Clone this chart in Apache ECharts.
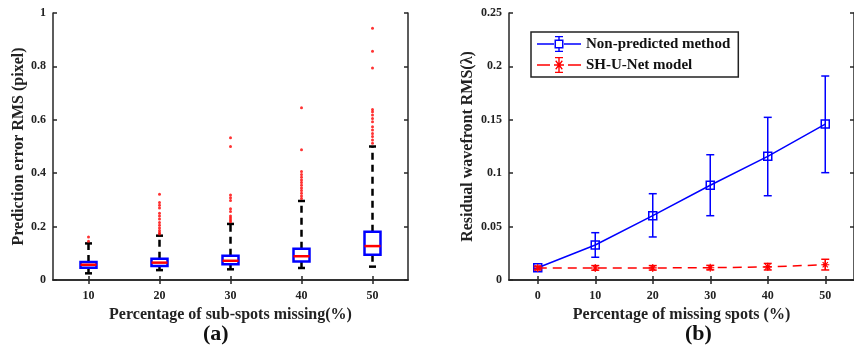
<!DOCTYPE html>
<html>
<head>
<meta charset="utf-8">
<script src="https://cdn.jsdelivr.net/npm/echarts@6/dist/echarts.min.js"></script>
<style>html,body{margin:0;padding:0;background:#fff;}#c{width:854px;height:353px;}</style>
</head>
<body>
<div id="c"></div>
<script>
// ---- Panel (a) data: box plots ----
const boxCats = ['10', '20', '30', '40', '50'];
const boxMin = [0.025, 0.037, 0.040, 0.045, 0.050];
const boxQ1  = [0.046, 0.052, 0.059, 0.069, 0.095];
const boxMed = [0.057, 0.065, 0.072, 0.089, 0.127];
const boxQ3  = [0.067, 0.080, 0.091, 0.117, 0.181];
const boxMax = [0.137, 0.166, 0.210, 0.296, 0.500];
const outliers10 = [0.145, 0.161];
const outliers20 = [0.172, 0.178, 0.185, 0.195, 0.205, 0.215, 0.228, 0.24, 0.25, 0.27, 0.28, 0.29, 0.321];
const outliers30 = [0.218, 0.225, 0.232, 0.24, 0.257, 0.267, 0.298, 0.308, 0.318, 0.5, 0.533];
const outliers40 = [0.305, 0.315, 0.325, 0.335, 0.345, 0.355, 0.365, 0.375, 0.385, 0.395, 0.406, 0.488, 0.645];
const outliers50 = [0.512, 0.524, 0.537, 0.549, 0.562, 0.574, 0.593, 0.605, 0.618, 0.63, 0.639, 0.794, 0.857, 0.943];
const yTicksA = [0, 0.2, 0.4, 0.6, 0.8, 1];

// ---- Panel (b) data: error-bar lines ----
const pctCats = ['0', '10', '20', '30', '40', '50'];
const npMean = [0.0115, 0.0328, 0.0602, 0.0887, 0.1158, 0.1460];
const npLow  = [0.0105, 0.0213, 0.0403, 0.0602, 0.0789, 0.1005];
const npHigh = [0.0125, 0.0443, 0.0808, 0.1173, 0.1523, 0.1910];
const shMean = [0.0112, 0.0112, 0.0113, 0.0115, 0.0123, 0.0143];
const shLow  = [0.0095, 0.0092, 0.0093, 0.0095, 0.0094, 0.0094];
const shHigh = [0.0130, 0.0135, 0.0135, 0.0137, 0.0155, 0.0194];
const yTicksB = [0, 0.05, 0.1, 0.15, 0.2, 0.25];

const FONT = 'Liberation Serif';
const BLUE = '#0000ff', RED = '#ff0000', AX = '#262626';

const allOutliers = [outliers10, outliers20, outliers30, outliers40, outliers50];
const outlierData = [];
allOutliers.forEach((arr, i) => arr.forEach(v => outlierData.push([i, v])));

const boxData = boxCats.map((c, i) => [i, boxMin[i], boxQ1[i], boxMed[i], boxQ3[i], boxMax[i]]);

function axisX(gridIndex, data, pos, labels, name, nameGap) {
  return {
    type: 'category', gridIndex, data, position: pos, boundaryGap: true,
    axisLine: {show: true, lineStyle: {color: AX, width: 1.5}},
    axisTick: {show: true, inside: true, alignWithLabel: true, length: 4, lineStyle: {color: AX, width: 1.5}},
    axisLabel: {show: labels, margin: 10, fontFamily: FONT, fontWeight: 'bold', fontSize: 12, color: '#222'},
    splitLine: {show: false},
    name: name || '', nameLocation: 'middle', nameGap: nameGap || 0,
    nameTextStyle: {fontFamily: FONT, fontWeight: 'bold', fontSize: 16, color: '#222'}
  };
}
function axisY(gridIndex, max, interval, pos, labels, name, nameGap) {
  return {
    type: 'value', gridIndex, min: 0, max, interval, position: pos,
    axisLine: {show: true, lineStyle: {color: AX, width: 1.5}},
    axisTick: {show: true, inside: true, length: 4, lineStyle: {color: AX, width: 1.5}},
    axisLabel: {show: labels, margin: 7, fontFamily: FONT, fontWeight: 'bold', fontSize: 12, color: '#222'},
    splitLine: {show: false},
    name: name || '', nameLocation: 'middle', nameGap: nameGap || 0,
    nameTextStyle: {fontFamily: FONT, fontWeight: 'bold', fontSize: 16, color: '#222'}
  };
}

const asterisk = 'path://M-0.7,-5L0.7,-5L0.7,5L-0.7,5Z M-5,-0.7L5,-0.7L5,0.7L-5,0.7Z M-3.8,-2.8L-2.8,-3.8L3.8,2.8L2.8,3.8Z M2.8,-3.8L3.8,-2.8L-2.8,3.8L-3.8,2.8Z';

// legend icons (44 x 16 box): line + marker + error bar
const legendIconBlue = 'path://' +
  'M0,7.3L17,7.3L17,8.7L0,8.7Z M27,7.3L44,7.3L44,8.7L27,8.7Z ' +
  'M17.5,3.5L26.5,3.5L26.5,12.5L17.5,12.5Z M19,11L25,11L25,5L19,5Z ' +
  'M21.3,0L22.7,0L22.7,3.5L21.3,3.5Z M21.3,12.5L22.7,12.5L22.7,16L21.3,16Z ' +
  'M18,0L26,0L26,1.3L18,1.3Z M18,14.7L26,14.7L26,16L18,16Z';
const legendIconRed = 'path://' +
  'M0,7.3L13,7.3L13,8.7L0,8.7Z M31,7.3L44,7.3L44,8.7L31,8.7Z ' +
  'M21.3,0L22.7,0L22.7,16L21.3,16Z M17,7.3L27,7.3L27,8.7L17,8.7Z ' +
  'M18.2,4.2L19.2,3.2L25.8,11.8L24.8,12.8Z M24.8,3.2L25.8,4.2L19.2,12.8L18.2,11.8Z ' +
  'M18,0L26,0L26,1.3L18,1.3Z M18,14.7L26,14.7L26,16L18,16Z';

function errRender(color) {
  return function (params, api) {
    const x = api.value(0);
    const lo = api.coord([x, api.value(1)]);
    const hi = api.coord([x, api.value(2)]);
    const cw = 4;
    const st = {stroke: color, lineWidth: 1.5};
    return {type: 'group', children: [
      {type: 'line', shape: {x1: lo[0], y1: lo[1], x2: hi[0], y2: hi[1]}, style: st},
      {type: 'line', shape: {x1: lo[0] - cw, y1: lo[1], x2: lo[0] + cw, y2: lo[1]}, style: st},
      {type: 'line', shape: {x1: hi[0] - cw, y1: hi[1], x2: hi[0] + cw, y2: hi[1]}, style: st}
    ]};
  };
}

const chart = echarts.init(document.getElementById('c'), null, {renderer: 'canvas'});
chart.setOption({
  animation: false,
  backgroundColor: '#fff',
  grid: [
    {left: 53, top: 13, width: 355, height: 267},
    {left: 509, top: 13, width: 353, height: 267}
  ],
  xAxis: [
    axisX(0, boxCats, 'bottom', true, 'Percentage of sub-spots missing(%)', 23),
    axisX(0, boxCats, 'top', false),
    axisX(1, pctCats, 'bottom', true, 'Percentage of missing spots (%)', 23),
    axisX(1, pctCats, 'top', false)
  ],
  yAxis: [
    axisY(0, 1, 0.2, 'left', true, 'Prediction error RMS (pixel)', 25),
    axisY(0, 1, 0.2, 'right', false),
    axisY(1, 0.25, 0.05, 'left', true, 'Residual wavefront RMS(λ)', 33),
    axisY(1, 0.25, 0.05, 'right', false)
  ],
  legend: {
    data: [
      {name: 'Non-predicted method', icon: legendIconBlue, itemStyle: {color: BLUE, borderWidth: 0}},
      {name: 'SH-U-Net model', icon: legendIconRed, itemStyle: {color: RED, borderWidth: 0}}
    ],
    orient: 'vertical', left: 531, top: 32,
    padding: [4, 8, 4, 6], itemGap: 5, itemWidth: 44, itemHeight: 16,
    borderColor: '#222', borderWidth: 1.5, backgroundColor: '#fff',
    textStyle: {fontFamily: FONT, fontWeight: 'bold', fontSize: 15, color: '#111'}
  },
  series: [
    {
      type: 'custom', xAxisIndex: 0, yAxisIndex: 0, data: boxData,
      encode: {x: 0, y: [1, 2, 3, 4, 5]}, z: 3,
      renderItem: function (params, api) {
        const x = api.value(0);
        const pMin = api.coord([x, api.value(1)]);
        const pQ1 = api.coord([x, api.value(2)]);
        const pMed = api.coord([x, api.value(3)]);
        const pQ3 = api.coord([x, api.value(4)]);
        const pMax = api.coord([x, api.value(5)]);
        const cx = pMin[0], bw = 8, cw = 3.5;
        const wh = {stroke: '#000', lineWidth: 2.5, lineDash: [7, 5]};
        const cap = {stroke: '#000', lineWidth: 2.5};
        return {type: 'group', children: [
          {type: 'line', shape: {x1: cx, y1: pQ3[1], x2: cx, y2: pMax[1]}, style: wh},
          {type: 'line', shape: {x1: cx, y1: pQ1[1], x2: cx, y2: pMin[1]}, style: wh},
          {type: 'line', shape: {x1: cx - cw, y1: pMax[1], x2: cx + cw, y2: pMax[1]}, style: cap},
          {type: 'line', shape: {x1: cx - cw, y1: pMin[1], x2: cx + cw, y2: pMin[1]}, style: cap},
          {type: 'rect', shape: {x: cx - bw, y: pQ3[1], width: 2 * bw, height: pQ1[1] - pQ3[1]},
            style: {fill: '#fff', stroke: BLUE, lineWidth: 2.5}},
          {type: 'line', shape: {x1: cx - bw, y1: pMed[1], x2: cx + bw, y2: pMed[1]},
            style: {stroke: RED, lineWidth: 2.5}}
        ]};
      }
    },
    {
      type: 'scatter', xAxisIndex: 0, yAxisIndex: 0, data: outlierData,
      symbol: 'circle', symbolSize: 3, itemStyle: {color: RED}, z: 4
    },
    {
      name: 'Non-predicted method', type: 'line', xAxisIndex: 2, yAxisIndex: 2, data: npMean,
      symbol: 'rect', symbolSize: 8, showAllSymbol: true,
      lineStyle: {color: BLUE, width: 1.5},
      itemStyle: {color: 'rgba(255,255,255,0)', borderColor: BLUE, borderWidth: 1.5}, z: 3
    },
    {
      type: 'custom', xAxisIndex: 2, yAxisIndex: 2,
      data: pctCats.map((c, i) => [i, npLow[i], npHigh[i]]),
      encode: {x: 0, y: [1, 2]}, renderItem: errRender(BLUE), z: 3
    },
    {
      name: 'SH-U-Net model', type: 'line', xAxisIndex: 2, yAxisIndex: 2, data: shMean,
      symbol: asterisk, symbolSize: 8, showAllSymbol: true,
      lineStyle: {color: RED, width: 1.5, type: [9, 6]},
      itemStyle: {color: RED}, z: 4
    },
    {
      type: 'custom', xAxisIndex: 2, yAxisIndex: 2,
      data: pctCats.map((c, i) => [i, shLow[i], shHigh[i]]),
      encode: {x: 0, y: [1, 2]}, renderItem: errRender(RED), z: 4
    }
  ],
  graphic: [
    {type: 'text', left: 217 - 14, top: 323, style: {text: '(a)', font: 'bold 22px "Liberation Serif"', fill: '#111'}},
    {type: 'text', left: 699 - 14, top: 323, style: {text: '(b)', font: 'bold 22px "Liberation Serif"', fill: '#111'}}
  ]
});
</script>
</body>
</html>
